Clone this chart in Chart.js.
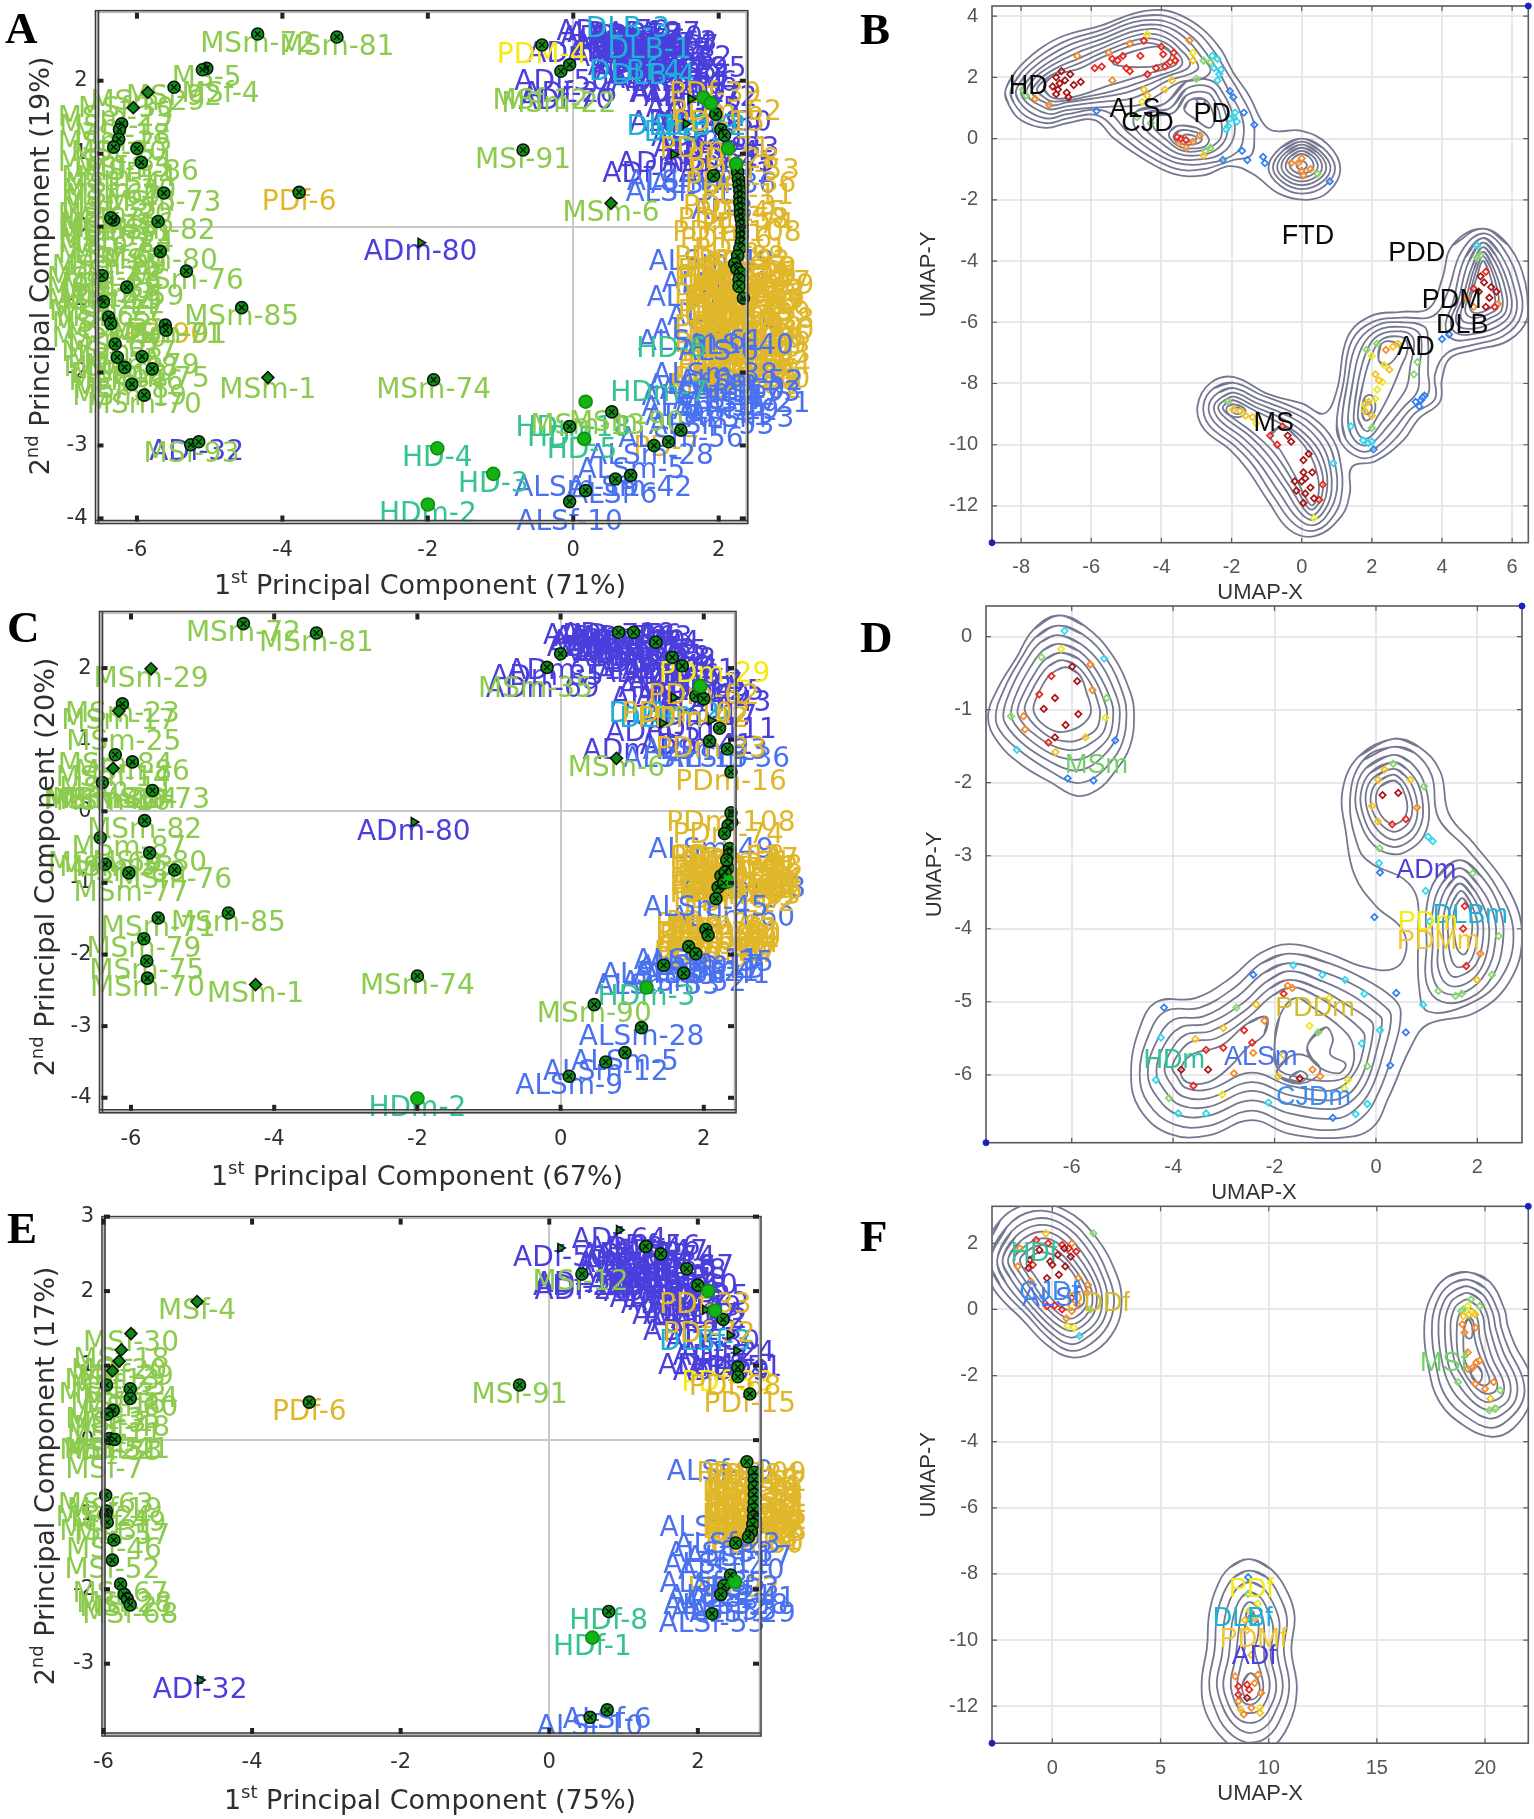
<!DOCTYPE html>
<html>
<head>
<meta charset="utf-8">
<title>PCA and UMAP panels</title>
<script src="https://cdn.jsdelivr.net/npm/chart.js@4"></script>
<style>
  html, body { margin: 0; background: #fff; }
  #page { position: relative; width: 1534px; height: 1819px; overflow: hidden; }
  canvas { position: absolute; }
</style>
</head>
<body>
<div id="page">
  <canvas id="panelA"></canvas>
  <canvas id="panelC"></canvas>
  <canvas id="panelE"></canvas>
  <canvas id="panelB"></canvas>
  <canvas id="panelD"></canvas>
  <canvas id="panelF"></canvas>
</div>
<script>
/* =====================================
   PANEL A – PCA (ALL)
===================================== */
const aXTicks = [-6, -4, -2, 0, 2];
const aYTicks = [2, 1, 0, -1, -2, -3, -4];
const aMsLabels = [[-4.34,2.64,"MSm-72"],[-3.25,2.6,"MSm-81"],[-5.04,2.17,"MS-5"],[-4.85,1.95,"MSf-4"],[-5.49,1.91,"MSf-92"],[-5.85,1.84,"MSm-29"],
  [-6.15,1.75,"MSf-30"],[-6.3,1.62,"MSm-23"],[-6.28,1.5,"MSm-17"],[-6.2,1.38,"MSf-18"],[-6.3,1.28,"MSm-25"],[-6.25,1.15,"MSf-20"],[-6.3,1,"MSm-84"],[-6.2,0.92,"MSf-13"],
  [-5.94,0.88,"MSm-86"],[-6.25,0.8,"MSm-14"],[-6.33,0.7,"MSf-54"],[-6.25,0.62,"MSm-30"],[-6.33,0.55,"MSf-60"],[-5.63,0.46,"MSm-73"],[-6.25,0.47,"MSm-43"],[-6.38,0.38,"MSf-35"],
  [-6.3,0.3,"MSm-20"],[-6.42,0.22,"MSf-3"],[-6.28,0.16,"MSm-16"],[-6.38,0.1,"MSf-48"],[-6.3,0.04,"MSm-11"],[-6.42,-0.04,"MSf-51"],[-5.71,0.07,"MSm-82"],[-6.28,-0.1,"MSm-24"],
  [-6.38,-0.18,"MSf-7"],[-6.3,-0.25,"MSm-87"],[-5.68,-0.34,"MSm-80"],[-6.25,-0.33,"MSf-63"],[-6.38,-0.42,"MSm-69"],[-6.33,-0.5,"MSf-22"],[-5.32,-0.61,"MSm-76"],[-6.45,-0.58,"MSm-33"],
  [-6.38,-0.66,"MSf-41"],[-6.45,-0.72,"MSm-89"],[-6.42,-0.8,"MSf-27"],[-6.45,-0.88,"MSm-39"],[-6.14,-0.83,"MSm-59"],[-6.38,-0.96,"MSf-44"],[-6.42,-1.04,"MSm-77"],[-6.45,-1.12,"MSf-65"],
  [-6.38,-1.2,"MSm-55"],[-6.33,-1.3,"MSf-52"],[-5.61,-1.35,"MSm-71"],[-6.38,-1.4,"MSm-40"],[-6.3,-1.5,"MSf-67"],[-6.25,-1.6,"MSm-37"],[-6.3,-1.7,"MSf-58"],[-5.93,-1.78,"MSm-79"],
  [-6.22,-1.8,"MSm-28"],[-6.25,-1.9,"MSf-68"],[-5.79,-1.95,"MSm-75"],[-6.15,-2,"MSm-46"],[-6.22,-2.1,"MSf-38"],[-6.1,-2.2,"MSm-19"],[-5.9,-2.31,"MSm-70"],[-4.56,-1.11,"MSm-85"],
  [-4.2,-2.1,"MSm-1"],[-1.92,-2.1,"MSm-74"],[-0.69,1.05,"MSf-91"],[0.52,0.32,"MSm-6"],[-5.25,-2.98,"MSf-93"],[-5.55,-1.35,"MSm-91"],[0.73,-2.56,"MSm-90"],[0.2,-2.6,"MSm-13"],[-0.45,1.85,"MSf-12"],[-0.2,1.82,"MSm-22"]];
const aAdLabels = [[-2.1,-0.22,"ADm-80"],[-5.18,-2.95,"ADf-32"],[-0.16,2.11,"ADf-50"],[-0.05,1.95,"ADf-26"],[-0.1,1.85,"ADf-70"],[0.15,2.5,"ADm-65"],[0.55,2.8,"ADm-70"],[0.7,2.78,"ADm-18"],[0.85,2.75,"ADf-77"],[1,2.72,"ADm-40"],
  [1.1,2.78,"ADf-27"],[1.2,2.65,"ADm-63"],[0.65,2.62,"ADf-64"],[0.8,2.6,"ADm-31"],[0.95,2.55,"ADf-47"],[1.1,2.5,"ADm-37"],[1.25,2.55,"ADf-12"],[1.4,2.45,"ADm-52"],[0.75,2.45,"ADm-22"],[0.9,2.4,"ADf-9"],
  [1.05,2.35,"ADm-55"],[1.2,2.3,"ADf-41"],[1.35,2.3,"ADm-29"],[1.5,2.2,"ADf-83"],[1.6,2.1,"ADm-6"],[1.1,2.15,"ADf-58"],[1.3,2.1,"ADm-44"],[1.45,1.95,"ADf-19"],[1.75,1.9,"ADm-72"],[1.65,1.75,"ADf-35"],
  [1.55,1.55,"ADm-49"],[1.7,1.55,"ADf-14"],[1.85,1.35,"ADm-11"],[1.75,1.2,"ADf-68"],[1.38,0.99,"ADm-51"],[1.05,0.85,"ADf-23"],[2.05,1.2,"ADm-33"],
  [0.6,2.72,"ADm-34"],[0.9,2.68,"ADf-56"],[1.15,2.62,"ADm-74"],[1.35,2.6,"ADf-67"],[0.7,2.52,"ADm-46"],[1.05,2.45,"ADf-38"],[1.3,2.42,"ADm-8"],[0.85,2.32,"ADf-61"],[1.25,2.2,"ADm-60"],[1.45,2.25,"ADf-5"],[1.6,2.3,"ADm-25"],
  [0.95,2.25,"ADf-43"],[1.55,1.95,"ADm-17"],[1.8,1.75,"ADf-2"],[1.95,1.55,"ADm-30"],[1.9,1.15,"ADf-24"],[2,1,"ADm-45"],[2.1,0.85,"ADf-71"]];
const aDlbLabels = [[0.75,2.85,"DLB-3"],[1.05,2.55,"DLB-1"],[0.85,2.25,"DLBf-4"],[1.1,2.2,"DLB-4"],[1.5,1.5,"DLBm-9"],[1.75,1.5,"DLBf-2"],[1.55,1.42,"DLB-5"]];
const aPdmLabels = [[-0.43,2.49,"PDM-4"]];
const aPdLabels = [[-3.77,0.47,"PDf-6"],[-5.6,-1.35,"PD-90"],[1.28,-2.9,"PD-7"],[1.95,1.95,"PDf-39"],[2.1,1.7,"PDm-62"],[2,1.55,"PDf-15"],[1.95,1.2,"PDm-71"],[2.2,1.05,"PDf-28"],[2.35,0.9,"PDm-53"],
  [2.3,0.72,"PDm-36"],[2.4,0.55,"PDf-11"],[2.15,0.4,"PDm-3"],[2.3,0.32,"PDf-45"],[2.2,0.22,"PDm-58"],[2.4,0.15,"PDf-74"],[2.25,0.05,"PDm-108"],[2.1,-0.05,"PDf-16"],[2.3,-0.18,"PDm-1"],[2.15,-0.3,"PDm-88"],
  [2.35,-0.35,"PDf-92"],[2.2,-0.47,"PDm-34"],[2.45,-0.52,"PDf-25"],[2.15,-0.58,"PDm-94"],[2.5,-0.64,"PDm-47"],[2.2,-0.7,"PDf-66"],[2.4,-0.76,"PDm-12"],[2.15,-0.82,"PDm-81"],[2.55,-0.88,"PDf-79"],
  [2.3,-0.94,"PDm-26"],[2.15,-1,"PDf-57"],[2.5,-1.06,"PDm-99"],[2.25,-1.12,"PDm-8"],[2.45,-1.18,"PDf-43"],[2.15,-1.24,"PDm-61"],[2.55,-1.3,"PDm-30"],[2.25,-1.36,"PDf-83"],[2.4,-1.42,"PDm-20"],
  [2.15,-1.48,"PDm-69"],[2.5,-1.54,"PDf-10"],[2.25,-1.6,"PDm-77"],[2.4,-1.66,"PDf-50"],[2.2,-1.72,"PDm-41"],[2.5,-1.78,"PDm-64"],[2.25,-1.84,"PDf-32"],[2.4,-1.9,"PDm-85"],[2.15,-1.96,"PDm-13"],[2.45,-2,"PDf-70"],
  [2.3,-0.45,"PDm-18"],[2.5,-0.5,"PDf-21"],[2.2,-0.55,"PDm-22"],[2.4,-0.6,"PDf-33"],[2.55,-0.68,"PDm-39"],[2.25,-0.74,"PDf-44"],[2.45,-0.8,"PDm-51"],[2.2,-0.86,"PDf-55"],[2.35,-0.9,"PDm-63"],[2.52,-0.96,"PDf-67"],
  [2.2,-1.03,"PDm-72"],[2.4,-1.1,"PDf-75"],[2.55,-1.15,"PDm-78"],[2.25,-1.2,"PDf-80"],[2.4,-1.27,"PDm-82"],[2.2,-1.33,"PDf-84"],[2.5,-1.38,"PDm-86"],[2.3,-1.45,"PDf-87"],[2.45,-1.5,"PDm-89"],[2.2,-1.55,"PDf-91"],
  [2.5,-1.62,"PDm-93"],[2.3,-1.68,"PDf-95"],[2.2,-1.78,"PDm-96"],[2.45,-1.85,"PDf-97"],[2.3,-1.93,"PDm-98"],[2.5,-1.97,"PDf-100"],[2.2,-2.05,"PDm-101"],[2.4,-2.1,"PDf-102"]];
const aAlsTopLabels = [[1.6,0.75,"ALSm-23"],[1.93,0.7,"ALSm-36"],[1.45,0.6,"ALSf-31"],[2.05,0.35,"AL-3"],[1.9,-0.35,"ALSm-49"],[1.95,-0.65,"ALSf-14"],[1.75,-0.85,"ALSm-7"],[1.95,-1.3,"ALSm-45"],[1.9,-1.1,"ALSf-2"]];
const aAlsLowLabels = [[1.75,-1.45,"ALSm-61"],[2.3,-1.5,"ALSf-40"],[2,-1.58,"ALS-6"],[1.95,-1.9,"ALSm-38"],[2.3,-2,"ALSm-52"],[1.75,-2.05,"ALSf-29"],[2.05,-2.12,"ALSm-60"],
  [2.4,-2.15,"ALSf-33"],[1.8,-2.2,"ALSm-11"],[2.1,-2.26,"ALSf-47"],[2.4,-2.3,"ALSm-21"],[1.8,-2.35,"ALSm-35"],[2.1,-2.4,"ALSf-19"],[1.85,-2.48,"ALSm-41"],[2.3,-2.5,"ALSm-3"],[1.9,-2.6,"ALSm-53"],[1.48,-2.78,"ALSm-56"],
  [1.07,-3.01,"ALSm-28"],[0.8,-3.2,"ALSm-5"],[0.77,-3.45,"ALSm-42"],[0.05,-3.45,"ALSm-19"],[0.55,-3.55,"ALSf-6"],[-0.05,-3.92,"ALSf-10"]];
const aHdLabels = [[-2,-3.81,"HDm-2"],[-1.1,-3.39,"HD-3"],[-1.87,-3.04,"HD-4"],[0.12,-2.93,"HD-5"],[-0.15,-2.76,"HD-1"],[0,-2.62,"HDm-18"],[1.35,-1.55,"HD-6"],[1.18,-2.15,"HDm-7"]];
const aDots = [[-4.34,2.64],[-3.25,2.6],[-5.04,2.17],[-5.1,2.15],[-5.49,1.91],[-6.21,1.41],[-6.24,1.33],[-6.25,1.2],[-6.32,1.09],[-6,1.07],[-5.94,0.88],[-5.63,0.46],[-6.32,0.09],[-6.36,0.12],[-5.71,0.07],[-5.68,-0.34],[-5.32,-0.61],[-6.14,-0.83],
  [-6.48,-0.67],[-6.46,-1.03],[-6.39,-1.24],[-6.36,-1.33],[-5.61,-1.35],[-5.6,-1.42],[-6.3,-1.61],[-5.93,-1.78],[-6.27,-1.79],[-6.17,-1.93],[-5.79,-1.95],[-6.07,-2.16],[-5.9,-2.31],[-4.56,-1.11],[-1.92,-2.1],[-0.69,1.05],[-3.77,0.47],
  [-5.26,-2.99],[-5.15,-2.95],[-0.43,2.49],[-0.17,2.13],[-0.05,2.22],[1.96,1.54],[2.03,1.33],[2.08,1.25],[1.93,0.7],[2.26,0.75],[2.27,0.65],[2.28,0.57],[2.29,0.49],[2.29,0.41],[2.29,0.33],[2.3,0.25],[2.3,0.17],[2.31,0.1],[2.32,0.02],[2.32,-0.06],
  [2.32,-0.14],[2.31,-0.22],[2.29,-0.3],[2.26,-0.4],[2.22,-0.51],[2.25,-0.58],[2.3,-0.64],[2.28,-0.72],[2.28,-0.82],[2.34,-0.98],[1.48,-2.79],[1.31,-2.95],[1.11,-3],[0.53,-2.54],[-0.05,-2.74],[0.79,-3.41],[0.58,-3.46],[0.17,-3.62],[-0.05,-3.77]];
const aBrightDots = [[1.79,1.77],[1.89,1.69],[2.13,1.07],[2.24,0.86],[0.17,-2.4],[0.15,-2.91],[-1.87,-3.04],[-1.1,-3.39],[-2,-3.81]];
const aDiamonds = [[-5.85,1.84],[-6.05,1.63],[-4.2,-2.07],[0.52,0.32]];
const aTriangles = [[-2.1,-0.22],[1.62,1.75],[1.55,1.41],[1.38,0.99]];

/* =====================================
   PANEL C – PCA (MALE)
===================================== */
const cXTicks = [-6, -4, -2, 0, 2];
const cYTicks = [2, 1, 0, -1, -2, -3, -4];
const cMsLabels = [[-4.43,2.62,"MSm-72"],[-3.41,2.49,"MSm-81"],[-5.72,1.99,"MSm-29"],[-6.12,1.5,"MSm-23"],[-6.17,1.4,"MSm-17"],[-6.1,1.1,"MSm-25"],[-6.22,0.79,"MSm-84"],[-5.98,0.69,"MSm-86"],[-6.25,0.6,"MSm-14"],[-6.2,0.45,"MSm-11"],
  [-6.4,0.3,"MSm-30"],[-6.42,0.28,"MSm-43"],[-6.3,0.3,"MSm-20"],[-6.25,0.27,"MSm-16"],[-6.15,0.3,"MSm-24"],[-5.7,0.29,"MSm-73"],[-5.81,-0.13,"MSm-82"],[-6.03,-0.37,"MSm-87"],[-5.74,-0.58,"MSm-80"],[-6.36,-0.6,"MSm-69"],[-6.03,-0.72,"MSm-89"],
  [-6.2,-0.66,"MSm-33"],[-5.39,-0.82,"MSm-76"],[-6,-1,"MSm-77"],[-4.64,-1.42,"MSm-85"],[-5.62,-1.49,"MSm-71"],[-5.82,-1.78,"MSm-79"],[-5.78,-2.09,"MSm-75"],[-5.77,-2.33,"MSm-70"],[-4.26,-2.42,"MSm-1"],[-2,-2.3,"MSm-74"],[0.78,0.74,"MSm-6"],[0.47,-2.7,"MSm-90"],[-0.35,1.85,"MSm-35"]];
const cAdLabels = [[-2.05,-0.15,"ADm-80"],[0.05,2.1,"ADm-11"],[-0.19,2.01,"ADm-85"],[-0.25,1.85,"ADm-69"],[0.55,2.58,"ADm-79"],[0.7,2.55,"ADm-70"],[0.8,2.6,"ADm-18"],[0.95,2.5,"ADm-40"],[1.05,2.55,"ADm-63"],[0.6,2.42,"ADm-31"],[0.85,2.4,"ADm-37"],[1.1,2.38,"ADm-22"],
  [1.25,2.36,"ADm-55"],[0.95,2.28,"ADm-29"],[1.2,2.2,"ADm-52"],[1.4,2.15,"ADm-44"],[1.55,2.03,"ADm-6"],[1.75,1.95,"ADm-72"],[1.6,1.85,"ADm-58"],[1.85,1.75,"ADm-49"],[1.5,1.7,"ADm-14"],[1.42,1.23,"ADm-51"],[2.1,1.27,"ADm-111"],[1.1,0.98,"ADm-23"],[1.9,1.05,"ADm-41"],
  [0.65,2.5,"ADm-34"],[0.9,2.58,"ADm-56"],[1.15,2.48,"ADm-74"],[0.75,2.35,"ADm-67"],[1,2.32,"ADm-46"],[1.3,2.28,"ADm-38"],[1.5,2.25,"ADm-8"],[1.65,2.1,"ADm-61"],[1.3,2.05,"ADm-60"],[1.9,1.9,"ADm-5"],[2.05,1.8,"ADm-25"],[2.15,1.65,"ADm-43"],[1.95,1.45,"ADm-17"]];
const cDlbLabels = [[1.45,1.5,"DLBm-2"],[1.6,1.42,"DLBm-9"]];
const cPdmLabels = [[2.15,2.05,"PDm-29"]];
const cPdLabels = [[2,1.75,"PDm-62"],[1.75,1.5,"PDm-102"],[1.85,1.42,"PDm-42"],[2.1,1,"PDm-33"],[2.38,0.55,"PDm-16"],[2.38,-0.02,"PDm-108"],[2.34,-0.2,"PDm-74"],[2.3,-0.52,"PDm-53"],[2.55,-0.55,"PDm-47"],[2.35,-0.6,"PDm-3"],
  [2.6,-0.64,"PDm-28"],[2.3,-0.68,"PDm-71"],[2.5,-0.72,"PDm-58"],[2.4,-0.76,"PDm-36"],[2.6,-0.82,"PDm-94"],[2.3,-0.88,"PDm-12"],[2.45,-0.92,"PDm-81"],[2.6,-0.98,"PDm-66"],[2.3,-1.02,"PDm-26"],[2.5,-1.08,"PDm-99"],
  [2.15,-1.48,"PDm-8"],[2.3,-1.52,"PDm-61"],[2.1,-1.58,"PDm-30"],[2.3,-1.65,"PDm-20"],[2.1,-1.72,"PDm-69"],[2.25,-1.78,"PDm-77"],[2.08,-1.84,"PDm-41"],
  [2.35,-0.5,"PDm-18"],[2.45,-0.58,"PDm-21"],[2.55,-0.66,"PDm-22"],[2.35,-0.72,"PDm-31"],[2.45,-0.8,"PDm-39"],[2.55,-0.86,"PDm-44"],[2.32,-0.92,"PDm-51"],[2.42,-0.98,"PDm-55"],[2.58,-1.04,"PDm-63"],[2.35,-1.1,"PDm-67"],[2.5,-1.14,"PDm-72"],
  [2.25,-1.42,"PDm-75"],[2.1,-1.45,"PDm-78"],[2.3,-1.56,"PDm-80"],[2.15,-1.62,"PDm-82"],[2.28,-1.72,"PDm-84"],[2.12,-1.78,"PDm-86"],[2.25,-1.85,"PDm-87"],[2.08,-1.92,"PDm-89"]];
const cAlsBackLabels = [[2.02,0.98,"ALSm-23"],[1.75,0.87,"ALSm-15"],[2.33,0.87,"ALSm-36"],[2.1,-0.4,"ALSm-49"],[2.55,-0.95,"ALSm-38"],[2.4,-1.35,"ALSm-60"]];
const cAlsLabels = [[2.03,-1.22,"ALSm-45"],[1.9,-1.95,"ALSm-11"],[2.1,-1.98,"ALSm-35"],[1.95,-2.04,"ALSm-17"],[2.1,-2.08,"ALSm-3"],
  [1.9,-2.12,"ALSm-21"],[2.05,-2.15,"ALSm-41"],[1.44,-2.15,"ALSm-58"],[1.72,-2.26,"ALSm-52"],[1.35,-2.3,"ALSm-33"],[1.13,-3.02,"ALSm-28"],[0.9,-3.37,"ALSm-5"],[0.63,-3.5,"ALSm-12"],[0.12,-3.7,"ALSm-9"]];
const cHdLabels = [[-2,-4.01,"HDm-2"],[1.2,-2.46,"HDm-3"]];
const cDots = [[-4.43,2.62],[-3.41,2.49],[-6.12,1.5],[-6.22,0.79],[-5.98,0.69],[-6.4,0.4],[-5.7,0.29],[-5.81,-0.13],[-6.43,-0.37],[-5.74,-0.58],[-6.36,-0.74],[-6.03,-0.86],[-5.39,-0.82],[-4.64,-1.42],[-5.62,-1.49],[-5.82,-1.78],[-5.78,-2.09],[-5.77,-2.33],[-2,-2.3],[0,2.2],[-0.19,2.01],
  [0.81,2.5],[1.02,2.5],[1.33,2.36],[1.56,2.15],[1.7,2.03],[1.89,1.61],[2,1.57],[2.22,1.16],[2.08,0.98],[2.33,0.87],[2.38,0.55],[2.38,-0.02],[2.39,-0.15],[2.34,-0.2],[2.29,-0.31],[2.36,-0.52],[2.36,-0.6],[2.34,-0.79],[2.24,-0.9],[2.2,-1.06],[2.17,-1.22],[2.03,-1.65],[2.06,-1.73],[1.79,-1.89],[1.89,-1.99],
  [1.44,-2.15],[1.72,-2.26],[0.47,-2.7],[1.13,-3.02],[0.9,-3.37],[0.63,-3.5],[0.12,-3.7],[2.32,-0.68],[2.3,-0.85],[2.28,-1]];
const cBrightDots = [[1.95,1.75],[2.34,-0.98],[1.2,-2.46],[-2,-4.01]];
const cDiamonds = [[-5.72,1.99],[-6.17,1.4],[-6.25,0.6],[-4.26,-2.42],[0.78,0.74]];
const cTriangles = [[-2.05,-0.15],[1.58,1.59],[1.42,1.23],[2.1,1.27]];

/* =====================================
   PANEL E – PCA (FEMALE)
===================================== */
const eXTicks = [-6, -4, -2, 0, 2];
const eYTicks = [3, 2, 1, 0, -1, -2, -3];
const eMsLabels = [[-4.74,1.86,"MSf-4"],[-5.63,1.43,"MSf-30"],[-5.76,1.21,"MSf-18"],[-5.79,1.06,"MSf-20"],[-5.7,0.98,"MSf-29"],[-5.88,0.93,"MSf-13"],[-5.8,0.85,"MSf-23"],[-5.96,0.74,"MSf-43"],[-5.64,0.69,"MSf-54"],[-5.8,0.6,"MSf-16"],[-5.64,0.56,"MSf-60"],[-5.87,0.4,"MSf-35"],
  [-5.95,0.35,"MSf-3"],[-5.75,0.3,"MSf-48"],[-5.85,0.2,"MSf-11"],[-5.89,0,"MSf-51"],[-5.95,-0.02,"MSf-22"],[-5.85,-0.03,"MSf-33"],[-5.75,0,"MSf-41"],[-5.99,-0.27,"MSf-7"],[-5.97,-0.74,"MSf-63"],[-5.85,-0.8,"MSf-19"],[-6,-0.92,"MSf-24"],[-5.8,-0.98,"MSf-49"],
  [-5.95,-1.1,"MSf-31"],[-5.75,-1.15,"MSf-57"],[-5.86,-1.34,"MSf-46"],[-5.88,-1.61,"MSf-52"],[-5.77,-1.93,"MSf-67"],[-5.72,-2.07,"MSf-28"],[-5.68,-2.12,"MSf-21"],[-5.64,-2.21,"MSf-68"],[-0.4,0.74,"MSf-91"],[0.42,2.25,"MSf-12"]];
const eAdLabels = [[-4.7,-3.22,"ADf-32"],[0.94,2.82,"ADf-64"],[0.15,2.58,"ADf-50"],[0.44,2.23,"ADf-70"],[0.42,2.18,"ADf-26"],[0.44,2.13,"ADf-20"],[1.05,2.62,"ADf-77"],[1.25,2.6,"ADf-37"],[1.5,2.65,"ADf-47"],[1.1,2.48,"ADf-27"],[1.35,2.5,"ADf-63"],[1.6,2.45,"ADf-18"],[1,2.38,"ADf-31"],[1.25,2.35,"ADf-40"],[1.5,2.32,"ADf-22"],[1.75,2.28,"ADf-55"],
  [1.15,2.22,"ADf-29"],[1.4,2.18,"ADf-52"],[1.65,2.15,"ADf-44"],[1.85,2.08,"ADf-6"],[1.45,2.02,"ADf-72"],[1.7,1.98,"ADf-58"],[1.95,1.9,"ADf-49"],[1.75,1.8,"ADf-14"],[2,1.7,"ADf-83"],[1.9,1.58,"ADf-23"],[2.4,1.3,"ADf-24"],[2.1,1.12,"ADf-45"],[2.3,1.05,"ADf-34"],[2.5,1.1,"ADf-51"],
  [1.15,2.7,"ADf-34"],[1.4,2.72,"ADf-56"],[1.6,2.58,"ADf-74"],[1.85,2.45,"ADf-67"],[1,2.5,"ADf-46"],[1.75,2.4,"ADf-38"],[1.35,2.4,"ADf-8"],[1.6,2.28,"ADf-61"],[1.9,2.2,"ADf-60"],[1.25,2.1,"ADf-5"],[2.05,2.05,"ADf-25"],[1.6,1.95,"ADf-43"],[1.9,1.8,"ADf-17"],[2.15,1.75,"ADf-2"],[2.2,1.45,"ADf-30"],[2.3,1.25,"ADf-71"],[2.45,1.05,"ADf-9"]];
const eDlbLabels = [[2.1,1.45,"DLBf-3"]];
const ePdmLabels = [[2.4,0.9,"PDf-38"]];
const ePdLabels = [[-3.23,0.51,"PDf-6"],[2.1,1.95,"PDf-33"],[2.15,1.55,"PDf-72"],[2.5,0.85,"PDf-68"],[2.7,0.62,"PDf-15"],[2.72,-0.32,"PDf-109"],[2.75,-0.55,"PDf-36"],[2.8,-0.6,"PDf-53"],[2.72,-0.68,"PDf-28"],[2.85,-0.72,"PDf-11"],[2.75,-0.78,"PDf-47"],[2.82,-0.86,"PDf-94"],[2.72,-0.92,"PDf-12"],
  [2.85,-0.96,"PDf-81"],[2.75,-1.02,"PDf-66"],[2.82,-1.08,"PDf-26"],[2.72,-1.14,"PDf-99"],[2.85,-1.18,"PDf-8"],[2.78,-1.24,"PDf-61"],[2.48,-1.86,"PDf-92"],
  [2.72,-0.42,"PDf-18"],[2.8,-0.5,"PDf-21"],[2.68,-0.58,"PDf-22"],[2.85,-0.64,"PDf-31"],[2.7,-0.74,"PDf-39"],[2.8,-0.82,"PDf-44"],[2.68,-0.88,"PDf-51"],[2.85,-0.9,"PDf-55"],[2.7,-1,"PDf-63"],[2.8,-1.04,"PDf-67"],[2.68,-1.08,"PDf-72"],[2.85,-1.12,"PDf-75"],[2.72,-1.2,"PDf-78"],[2.8,-1.28,"PDf-80"],[2.85,-0.45,"PDf-82"],[2.75,-0.35,"PDf-84"]];
const eAlsBackLabels = [[2.3,-0.3,"ALSf-19"],[2.2,-1.05,"ALSf-30"]];
const eAlsLabels = [[2.4,-1.28,"ALSf-23"],[2.3,-1.4,"ALSf-38"],[2.55,-1.45,"ALSf-17"],[2.25,-1.55,"ALSf-11"],[2.45,-1.62,"ALSf-40"],[2.2,-1.8,"ALSf-35"],[2.5,-1.85,"ALSf-3"],[2.3,-1.98,"ALSf-21"],[2.6,-2,"ALSf-41"],[2.25,-2.1,"ALSf-52"],
  [2.5,-2.1,"ALSf-58"],[2.35,-2.18,"ALSf-33"],[2.6,-2.2,"ALSf-29"],[2.19,-2.33,"ALSf-53"],[0.78,-3.62,"ALSf-6"],[0.55,-3.72,"ALSf-10"]];
const eHdLabels = [[0.8,-2.3,"HDf-8"],[0.58,-2.65,"HDf-1"]];
const eDots = [[-5.96,0.74],[-5.64,0.69],[-5.64,0.56],[-5.87,0.4],[-5.95,0.35],[-5.92,0.02],[-5.85,0.01],[-5.97,-0.74],[-5.96,-0.95],[-5.97,-1],[-5.95,-1.1],[-5.86,-1.34],[-5.88,-1.61],[-5.77,-1.93],[-5.72,-2.07],[-5.68,-2.13],[-5.64,-2.21],[-0.4,0.74],[-3.23,0.51],[0.44,2.23],[0.78,-3.62],[0.55,-3.72],[0.8,-2.3],
  [1.3,2.6],[1.5,2.5],[1.85,2.3],[2,2.08],[2.34,1.62],[2.54,0.98],[2.54,0.85],[2.7,0.62],[2.66,-0.29],[2.76,-0.43],[2.76,-0.53],[2.76,-0.63],[2.76,-0.73],[2.76,-0.83],[2.75,-0.93],[2.75,-1.03],[2.74,-1.13],[2.72,-1.23],[2.68,-1.3],[2.51,-1.38],[2.44,-1.81],[2.35,-1.95],[2.31,-2.07],[2.19,-2.33]];
const eBrightDots = [[2.14,2],[2.23,1.74],[2.5,-1.9],[0.58,-2.65]];
const eDiamonds = [[-4.74,1.86],[-5.63,1.43],[-5.76,1.21],[-5.79,1.06],[-5.88,0.93]];
const eTriangles = [[0.94,2.82],[0.15,2.58],[-4.7,-3.22],[2.43,1.41],[2.52,1.2],[2.1,1.75]];

/* =====================================
   PANEL B – UMAP (ALL)
===================================== */
const bXTicks = [-8, -6, -4, -2, 0, 2, 4, 6];
const bYTicks = [4, 2, 0, -2, -4, -6, -8, -10, -12];
const bNames = [[-7.8,1.7,"HD"],[-4.75,0.95,"ALS"],[-4.4,0.5,"CJD"],[-2.55,0.8,"PD"],[0.18,-3.19,"FTD"],[3.28,-3.76,"PDD"],[4.28,-5.29,"PDM"],[4.58,-6.1,"DLB"],[3.26,-6.83,"AD"],[-0.8,-9.31,"MS"]];
const bUpperRings = [
  [[-8.45,1.55],[-8.15,2.2],[-7.5,2.9],[-6.8,3.35],[-5.7,3.7],[-4.75,4.1],[-4,4.2],[-3.4,4],[-2.8,3.55],[-2.3,2.9],[-1.95,2.15],[-1.5,1.4],[-1.1,0.5],[-0.8,0.25],[0,0.25],[0.75,-0.2],[1.1,-1],[0.75,-1.75],[0.15,-2],[-0.65,-1.8],[-1.4,-1.15],[-2.05,-0.9],[-2.8,-1.2],[-3.65,-1.15],[-4.6,-0.6],[-5.35,0],[-5.9,0.6],[-6.7,0.5],[-7.3,0.35],[-8,0.6],[-8.35,1.1]],
  [[-8.3,1.55],[-8,2.15],[-7.4,2.75],[-6.7,3.2],[-5.7,3.55],[-4.8,3.95],[-4.05,4.03],[-3.5,3.85],[-2.95,3.45],[-2.5,2.85],[-2.15,2.2],[-1.75,1.45],[-1.4,0.65],[-1.35,0.1],[-1.45,-0.55],[-1.95,-0.7],[-2.8,-1],[-3.6,-0.98],[-4.45,-0.5],[-5.15,0.1],[-5.8,0.75],[-6.7,0.65],[-7.25,0.5],[-7.85,0.72],[-8.2,1.15]],
  [[-8.15,1.55],[-7.85,2.1],[-7.3,2.62],[-6.6,3.07],[-5.7,3.4],[-4.8,3.8],[-4.1,3.87],[-3.6,3.7],[-3.1,3.3],[-2.7,2.75],[-2.35,2.15],[-2.05,1.5],[-1.75,0.85],[-1.65,0.2],[-1.85,-0.45],[-2.75,-0.82],[-3.55,-0.8],[-4.3,-0.38],[-4.95,0.2],[-5.6,0.9],[-6.7,0.8],[-7.2,0.65],[-7.7,0.83],[-8.05,1.2]],
  [[-8,1.55],[-7.7,2.05],[-7.2,2.5],[-6.5,2.93],[-5.7,3.25],[-4.8,3.65],[-4.15,3.72],[-3.65,3.55],[-3.2,3.15],[-2.85,2.65],[-2.6,2.25],[-2.85,1.95],[-3.45,1.85],[-4.05,1.45],[-4.6,1.1],[-5.35,1.05],[-6.7,0.93],[-7.15,0.8],[-7.55,0.95],[-7.9,1.25]],
  [[-7.85,1.55],[-7.6,2],[-7.1,2.4],[-6.45,2.78],[-5.7,3.1],[-4.8,3.5],[-4.2,3.58],[-3.75,3.4],[-3.35,3.05],[-3.05,2.6],[-2.95,2.3],[-3.2,2.1],[-3.8,1.9],[-4.35,1.55],[-4.9,1.3],[-5.7,1.2],[-6.7,1.05],[-7.15,0.95],[-7.45,1.08],[-7.75,1.3]],
  [[-7.7,1.55],[-7.45,1.95],[-7,2.3],[-6.35,2.62],[-5.7,2.95],[-4.8,3.35],[-4.25,3.42],[-3.8,3.25],[-3.45,2.9],[-3.2,2.55],[-3.25,2.3],[-3.8,2.05],[-4.4,1.75],[-5,1.5],[-5.7,1.35],[-6.7,1.18],[-7.1,1.08],[-7.35,1.2],[-7.6,1.35]],
  [[-7.55,1.6],[-7.3,1.95],[-6.9,2.2],[-6.3,2.48],[-5.7,2.8],[-4.8,3.2],[-4.3,3.27],[-3.85,3.1],[-3.55,2.8],[-3.4,2.5],[-3.55,2.27],[-4.1,2.05],[-4.7,1.8],[-5.4,1.55],[-6.2,1.35],[-6.8,1.23],[-7.15,1.22],[-7.35,1.35]],
  [[-7.35,1.7],[-7.15,2],[-6.8,2.15],[-6.3,2.3],[-5.7,2.65],[-4.8,3.05],[-4.3,3.12],[-3.9,2.95],[-3.65,2.7],[-3.55,2.5],[-3.7,2.35],[-4.3,2.15],[-5,1.9],[-5.6,1.7],[-6.3,1.42],[-6.9,1.3],[-7.2,1.4]],
  [[-5.35,2.6],[-4.65,2.9],[-3.95,3],[-3.72,2.75],[-3.95,2.45],[-4.65,2.33],[-5.35,2.42]]];
const bLobeRings = [
  [[-3.9,1.15],[-3.3,1.85],[-2.6,1.9],[-2.2,1.4],[-1.95,0.7],[-1.95,0],[-2.3,-0.5],[-2.9,-0.68],[-3.55,-0.65],[-4.15,-0.27],[-4.75,0.35],[-4.7,0.9]],
  [[-3.75,1],[-3.3,1.62],[-2.65,1.7],[-2.35,1.3],[-2.15,0.7],[-2.15,0.05],[-2.45,-0.37],[-2.95,-0.55],[-3.5,-0.5],[-4,-0.15],[-4.5,0.4],[-4.4,0.85]],
  [[-3.65,0.85],[-3.3,1.4],[-2.7,1.5],[-2.45,1.15],[-2.3,0.6],[-2.3,0.05],[-2.55,-0.25],[-3,-0.42],[-3.45,-0.38],[-3.85,-0.05],[-4.25,0.42],[-4.15,0.75]],
  [[-3.2,1.25],[-2.8,1.3],[-2.6,1.05],[-2.5,0.55],[-2.65,0.35],[-3.05,0.65],[-3.35,0.95]],
  [[-3,1.25],[-2.85,1.3],[-2.75,1.2],[-2.9,1.12]],
  [[-3.5,0.42],[-3,0.35],[-2.65,0],[-2.75,-0.25],[-3.05,-0.32],[-3.45,-0.28],[-3.75,0],[-3.75,0.25]],
  [[-3.4,0.28],[-3,0.2],[-2.85,0],[-2.95,-0.15],[-3.25,-0.2],[-3.55,-0.12],[-3.65,0.1]],
  [[-3.35,0.12],[-3.1,0.1],[-3,0],[-3.15,-0.1],[-3.4,-0.05]]];
const bFtdRings = [
  [[0,0],[0.6,-0.3],[0.95,-0.95],[0.65,-1.55],[0,-1.8],[-0.6,-1.55],[-0.95,-0.95],[-0.6,-0.3]],
  [[0,-0.1],[0.5,-0.38],[0.82,-0.93],[0.58,-1.42],[0,-1.65],[-0.55,-1.42],[-0.82,-0.93],[-0.52,-0.38]],
  [[0,-0.2],[0.45,-0.45],[0.7,-0.92],[0.5,-1.32],[0,-1.52],[-0.48,-1.32],[-0.7,-0.92],[-0.45,-0.45]],
  [[0,-0.3],[0.38,-0.5],[0.58,-0.9],[0.42,-1.24],[0,-1.4],[-0.4,-1.24],[-0.58,-0.9],[-0.38,-0.5]],
  [[0,-0.4],[0.3,-0.56],[0.46,-0.88],[0.33,-1.15],[0,-1.28],[-0.32,-1.15],[-0.46,-0.88],[-0.3,-0.56]],
  [[0,-0.5],[0.23,-0.62],[0.34,-0.87],[0.25,-1.05],[0,-1.16],[-0.24,-1.05],[-0.34,-0.87],[-0.23,-0.62]],
  [[0,-0.72],[0.12,-0.8],[0.14,-0.92],[0,-1.02],[-0.14,-0.92],[-0.12,-0.8]]];
const bLowerOuter = [[5.16,-2.94],[5.89,-3.48],[6.38,-4.73],[6.44,-5.85],[5.89,-6.6],[4.91,-6.91],[4.24,-7.16],[4,-7.85],[3.94,-8.6],[3.33,-9.16],[2.9,-9.85],[2.1,-10.54],[1.43,-10.73],[1.37,-11.6],[1.12,-12.35],[0.39,-12.98],[-0.34,-12.79],[-0.95,-11.85],[-1.56,-10.79],[-2.05,-10.16],[-2.79,-9.48],[-2.97,-8.73],[-2.6,-7.98],[-1.93,-7.79],[-0.95,-8.35],[0.02,-8.66],[0.64,-8.98],[1,-8.23],[1.31,-6.48],[1.98,-5.79],[2.84,-5.66],[3.63,-5.54],[4,-4.6],[4.3,-3.48]];
const bMsRings = [
  [[-1.93,-7.98],[-1.2,-8.35],[-0.4,-8.7],[0.3,-9.1],[0.9,-9.85],[1.12,-10.7],[1.15,-11.5],[0.95,-12.25],[0.4,-12.8],[-0.2,-12.6],[-0.8,-11.7],[-1.4,-10.65],[-1.95,-10],[-2.65,-9.35],[-2.8,-8.7],[-2.5,-8.15]],
  [[-1.93,-8.15],[-1.25,-8.5],[-0.45,-8.85],[0.2,-9.25],[0.75,-9.95],[0.97,-10.75],[1,-11.5],[0.8,-12.15],[0.38,-12.62],[-0.1,-12.42],[-0.65,-11.55],[-1.25,-10.55],[-1.8,-9.9],[-2.5,-9.25],[-2.65,-8.72],[-2.38,-8.3]],
  [[-1.93,-8.3],[-1.3,-8.63],[-0.5,-9],[0.1,-9.4],[0.6,-10.05],[0.82,-10.8],[0.85,-11.5],[0.7,-12.05],[0.36,-12.45],[0,-12.27],[-0.5,-11.4],[-1.1,-10.45],[-1.65,-9.8],[-2.35,-9.18],[-2.5,-8.75],[-2.28,-8.45]],
  [[-1.93,-8.43],[-1.35,-8.75],[-0.6,-9.12],[0,-9.55],[0.47,-10.15],[0.7,-10.85],[0.72,-11.5],[0.6,-11.95],[0.33,-12.3],[0.08,-12.12],[-0.38,-11.3],[-0.95,-10.35],[-1.5,-9.7],[-2.2,-9.1],[-2.38,-8.78],[-2.2,-8.55]],
  [[-1.93,-8.55],[-1.4,-8.85],[-0.7,-9.25],[-0.1,-9.65],[0.35,-10.25],[0.58,-10.9],[0.6,-11.5],[0.5,-11.88],[0.3,-12.12],[0.12,-11.98],[-0.25,-11.2],[-0.8,-10.25],[-1.4,-9.6],[-2.05,-9.05],[-2.25,-8.8],[-2.12,-8.62]],
  [[-0.55,-9.42],[-0.1,-9.8],[0.25,-10.35],[0.45,-11],[0.48,-11.6],[0.3,-11.98],[0.1,-11.7],[-0.2,-11],[-0.6,-10.2],[-0.9,-9.7]],
  [[-1.93,-8.68],[-1.65,-8.8],[-1.62,-9],[-1.9,-9.1],[-2.12,-8.95],[-2.12,-8.75]],
  [[-1.87,-8.78],[-1.7,-8.85],[-1.75,-8.98],[-1.9,-8.98],[-2,-8.87]]];
const bAdRings = [
  [[1,-9.22],[1.19,-7.98],[1.43,-6.6],[2.04,-5.98],[2.84,-5.85],[3.75,-5.79],[4.15,-5.05],[4.55,-3.7],[5.16,-3.1],[5.75,-3.6],[6.2,-4.8],[6.25,-5.8],[5.75,-6.45],[4.85,-6.75],[4.15,-7],[3.8,-7.7],[3.8,-8.5],[3.2,-9],[2.75,-9.7],[2.1,-10.35],[1.6,-10.4],[1.1,-9.9]],
  [[1.15,-9.2],[1.3,-8],[1.55,-6.75],[2.1,-6.12],[2.85,-6],[3.5,-6.15],[3.6,-6.6],[3.6,-7.6],[3.6,-8.35],[3.05,-8.9],[2.6,-9.55],[2.05,-10.15],[1.65,-10.2],[1.25,-9.8]],
  [[1.32,-9.15],[1.45,-8],[1.7,-6.85],[2.15,-6.27],[2.85,-6.15],[3.3,-6.3],[3.42,-6.7],[3.35,-7.5],[3.3,-8.25],[2.9,-8.78],[2.45,-9.4],[2,-9.95],[1.68,-10],[1.4,-9.65]],
  [[1.48,-9.1],[1.6,-8],[1.85,-6.95],[2.2,-6.42],[2.85,-6.3],[3.15,-6.47],[3.2,-6.8],[3.1,-7.4],[3,-8.1],[2.7,-8.65],[2.3,-9.25],[1.95,-9.75],[1.72,-9.78],[1.55,-9.5]],
  [[1.6,-9.05],[1.75,-8],[2,-7.05],[2.3,-6.55],[2.8,-6.47],[3,-6.65],[3,-7],[2.85,-7.4],[2.6,-8.1],[2.35,-8.7],[2.1,-9.2],[1.9,-9.55],[1.73,-9.45]],
  [[2.2,-7.25],[2.25,-6.75],[2.5,-6.62],[2.8,-6.8],[2.65,-7.2],[2.4,-7.4]],
  [[1.72,-8.95],[1.8,-8.45],[2,-8.4],[2.1,-8.8],[1.95,-9.15],[1.8,-9.2]],
  [[1.8,-8.75],[1.9,-8.6],[2,-8.8],[1.9,-9],[1.8,-8.95]]];
const bPdmRings = [
  [[5.16,-3.25],[5.65,-3.75],[6.05,-4.85],[6.1,-5.75],[5.65,-6.3],[4.85,-6.55],[4.3,-6.55],[4.1,-6.1],[4.3,-5.4],[4.65,-3.9]],
  [[5.16,-3.4],[5.55,-3.85],[5.92,-4.9],[5.95,-5.7],[5.55,-6.15],[4.9,-6.38],[4.4,-6.35],[4.25,-5.95],[4.45,-5.35],[4.75,-4.05]],
  [[5.16,-3.55],[5.5,-4],[5.8,-4.9],[5.82,-5.65],[5.45,-6],[4.95,-6.2],[4.5,-6.15],[4.4,-5.8],[4.58,-5.25],[4.85,-4.2]],
  [[5.16,-3.7],[5.42,-4.1],[5.68,-4.95],[5.7,-5.6],[5.4,-5.85],[5,-6.02],[4.62,-5.98],[4.53,-5.7],[4.7,-5.15],[4.9,-4.3]],
  [[5.16,-3.85],[5.38,-4.2],[5.58,-4.95],[5.6,-5.5],[5.35,-5.72],[5.02,-5.85],[4.75,-5.8],[4.66,-5.55],[4.8,-5.05],[4.95,-4.4]],
  [[5.16,-4],[5.32,-4.3],[5.48,-5],[5.5,-5.4],[5.28,-5.6],[5.03,-5.7],[4.85,-5.65],[4.78,-5.4],[4.88,-4.95],[5,-4.5]]];
const bDarkRed = [[-7,2],[-6.9,1.8],[-6.75,1.9],[-6.95,1.6],[-6.7,1.5],[-6.6,2.1],[-7.1,1.7],[-6.85,2.2],[-6.5,1.75],[-6.3,1.85],[-6.65,1.35],[-7,1.45],[0.05,-10.5],[0.05,-10.9],[0.1,-11.1],[0.3,-10.9],[0,-11.2],[0.25,-11.4],[-0.15,-11.5],[0.1,-11.6],[0.35,-11.75],[0.05,-11.9],[-0.2,-11.2],[0.2,-10.3],[-0.4,-9.7],[-0.3,-9.9],[5.2,-4.7],[5.4,-4.85],[5.05,-5],[5.35,-5.2],[5.25,-5.5],[5.55,-5],[5.1,-4.5]];
const bRed = [[-5.9,2.3],[-5.7,2.35],[-5.4,2.6],[-5.1,2.7],[-5,2.3],[-4.9,2.2],[-4.6,2.7],[-4.4,2.1],[-4.15,2.3],[-3.9,2.35],[-3.95,2.75],[-4,3],[-3.65,2.8],[-3.6,2.55],[-4.5,3.2],[-3.75,2.5],[-5.25,2.55],[-3.45,0],[-3.55,0.05],[-3.3,-0.05],[-0.9,-9.7],[-0.55,-9.4],[-0.7,-10],[5.25,-4.35],[4.9,-4.9],[5.5,-5.5],[0.6,-11.3],[0.5,-11.8]];
const bOrange = [[-7.6,1.3],[-7.2,1.1],[-6.4,2.7],[-5.5,2.8],[-5.4,1.9],[-4.9,3.1],[-3.2,3.2],[-3.3,-0.3],[-3.1,-0.1],[-2.9,0.1],[-3.5,-0.15],[-0.3,-0.8],[0,-0.65],[0.25,-1],[0,-1.05],[-0.1,-0.8],[0.05,-1.2],[2.4,-6.9],[4.9,-5.5],[5.6,-5.4],[4.7,-5.2]];
const bGold = [[-4.5,1.6],[-4.4,1.4],[-3.7,1.9],[-3.1,2.55],[-1.95,-8.85],[-1.75,-8.9],[-1.6,-9.05],[-1.4,-9.1],[1.9,-8.6],[2.2,-7.9],[2.1,-7.7],[1.8,-8.9],[2,-9.05],[2.5,-7.55],[2.6,-6.8],[2.75,-6.7],[-3.9,1.6],[-2.8,-0.55]];
const bYellow = [[-4.4,3.4],[-3.1,2.8],[-4.55,1.2],[2.15,-8.2],[2.1,-8.5],[2.3,-7.95],[2,-7.1],[2.35,-7.4],[1.8,-8.7],[-1.3,-9.3],[0.35,-12.4]];
const bGreen = [[-7.95,1.6],[-7.85,1.4],[-2.8,2.55],[-2.6,2.5],[-3,1.95],[-4.7,0.7],[-4.3,0.5],[-2.6,-0.3],[-2.75,-0.4],[-2.1,-8.6],[1.85,-6.9],[2.15,-6.7],[2,-9.45],[0.45,-1.15],[5,-3.9],[5.1,-3.8],[3.2,-7.7],[3.3,-7.3]];
const bCyan = [[-2.55,2.7],[-2.4,2.6],[-2.5,2.3],[-2.35,2.1],[-2.4,1.9],[-2.3,2.25],[-1.95,0.7],[-2.1,0.4],[-1.85,0.55],[-1.9,0.85],[-2.05,0.65],[-2.15,0.3],[0.9,-10.6],[1.9,-9.95],[2,-9.9],[1.75,-9.85],[1.4,-9.4],[5,-3.5]];
const bBlue = [[-5.85,0.9],[-2.05,1.55],[-1.95,1.35],[-1.65,0.85],[-1.35,0.45],[-1.1,-0.6],[-1.05,-0.8],[-2.25,-0.7],[-1.7,-0.4],[3.25,-8.6],[3.4,-8.55],[3.5,-8.4],[3.35,-8.75],[3.45,-8.45],[2.05,-10.15],[4,-6.55],[4.2,-6.4],[0.8,-1.4],[-1.55,-0.7]];

/* =====================================
   PANEL D – UMAP (MALE)
===================================== */
const dXTicks = [-6, -4, -2, 0, 2];
const dYTicks = [0, -1, -2, -3, -4, -5, -6];
const dMsName = [[-5.51,-1.77,"MSm"]];
const dAdName = [[0.99,-3.2,"ADm"]];
const dDlbName = [[1.86,-3.82,"DLBm"]];
const dPdName = [[1.02,-3.92,"PDm"]];
const dPdmName = [[1.23,-4.17,"PDMm"]];
const dPddName = [[-1.2,-5.09,"PDDm"]];
const dHdName = [[-3.98,-5.81,"HDm"]];
const dAlsName = [[-2.27,-5.76,"ALSm"]];
const dCjdName = [[-1.23,-6.31,"CJDm"]];
const dMsRings = [
  [[-6.27,0.29],[-5.75,0.15],[-5.2,-0.25],[-4.85,-0.75],[-4.77,-1.05],[-4.85,-1.5],[-5.15,-1.85],[-5.5,-2.1],[-5.9,-2.18],[-6.4,-2],[-7,-1.75],[-7.45,-1.45],[-7.65,-1.1],[-7.45,-0.7],[-7.1,-0.3],[-6.75,0.1]],
  [[-6.27,0.15],[-5.78,0.03],[-5.3,-0.32],[-4.98,-0.8],[-4.92,-1.05],[-5,-1.45],[-5.27,-1.75],[-5.6,-1.95],[-5.95,-2],[-6.4,-1.85],[-6.95,-1.6],[-7.35,-1.35],[-7.5,-1.1],[-7.32,-0.7],[-7,-0.3],[-6.7,0]],
  [[-6.27,0.02],[-5.82,-0.1],[-5.4,-0.4],[-5.1,-0.85],[-5.05,-1.05],[-5.13,-1.4],[-5.4,-1.65],[-5.7,-1.8],[-6,-1.83],[-6.4,-1.72],[-6.9,-1.5],[-7.22,-1.28],[-7.35,-1.08],[-7.2,-0.72],[-6.9,-0.33],[-6.62,-0.08]],
  [[-6.25,-0.1],[-5.85,-0.2],[-5.48,-0.5],[-5.22,-0.88],[-5.18,-1.05],[-5.25,-1.35],[-5.5,-1.55],[-5.78,-1.67],[-6.05,-1.68],[-6.42,-1.6],[-6.85,-1.4],[-7.1,-1.22],[-7.2,-1.05],[-7.07,-0.75],[-6.8,-0.4],[-6.55,-0.18]],
  [[-6.22,-0.22],[-5.87,-0.3],[-5.55,-0.58],[-5.35,-0.9],[-5.3,-1.05],[-5.37,-1.3],[-5.6,-1.45],[-5.85,-1.54],[-6.1,-1.55],[-6.42,-1.48],[-6.8,-1.3],[-7,-1.15],[-7.07,-1.02],[-6.95,-0.78],[-6.7,-0.47],[-6.5,-0.3]],
  [[-6.2,-0.32],[-5.9,-0.4],[-5.62,-0.65],[-5.47,-0.93],[-5.44,-1.05],[-5.5,-1.25],[-5.7,-1.36],[-5.93,-1.43],[-6.15,-1.43],[-6.42,-1.38],[-6.72,-1.22],[-6.88,-1.08],[-6.93,-0.98],[-6.83,-0.8],[-6.63,-0.55],[-6.45,-0.4]],
  [[-6.1,-0.42],[-5.85,-0.52],[-5.7,-0.78],[-5.62,-1.03],[-5.75,-1.18],[-6,-1.28],[-6.3,-1.3],[-6.6,-1.18],[-6.75,-1.02],[-6.72,-0.88],[-6.5,-0.58],[-6.3,-0.46]]];
const dMainRings = [
  [[0.34,-1.4],[0.85,-1.51],[1.27,-1.85],[1.44,-2.43],[1.95,-2.85],[2.63,-3.48],[2.88,-4.1],[2.63,-4.73],[1.95,-5.15],[1.02,-5.31],[0.68,-5.63],[0.25,-6.31],[-0.08,-6.73],[-0.68,-6.86],[-1.7,-6.81],[-2.46,-6.62],[-3.3,-6.83],[-4.07,-6.81],[-4.66,-6.47],[-4.83,-5.99],[-4.66,-5.36],[-4.32,-5],[-3.56,-4.95],[-2.88,-4.68],[-2.29,-4.34],[-1.7,-4.21],[-0.93,-4.34],[-0.25,-4.52],[0.34,-4.55],[0.59,-4.32],[0.51,-4],[0,-3.69],[-0.42,-3.27],[-0.59,-2.69],[-0.66,-2.11],[-0.34,-1.64]],
  [[-1.7,-4.34],[-0.93,-4.47],[-0.25,-4.68],[0.34,-4.95],[0.49,-5.15],[0.34,-5.68],[0.04,-6.26],[-0.25,-6.57],[-0.76,-6.75],[-1.7,-6.68],[-2.46,-6.49],[-3.3,-6.7],[-3.98,-6.68],[-4.49,-6.39],[-4.66,-5.99],[-4.49,-5.47],[-4.15,-5.13],[-3.47,-5.08],[-2.8,-4.81],[-2.25,-4.47]],
  [[-1.7,-4.47],[-1,-4.6],[-0.35,-4.8],[0.15,-5.05],[0.3,-5.2],[0.15,-5.7],[-0.1,-6.2],[-0.4,-6.47],[-0.8,-6.6],[-1.7,-6.53],[-2.46,-6.35],[-3.3,-6.56],[-3.9,-6.55],[-4.32,-6.3],[-4.5,-5.98],[-4.33,-5.55],[-4,-5.25],[-3.4,-5.2],[-2.72,-4.92],[-2.2,-4.6]],
  [[-1.7,-4.58],[-1.05,-4.72],[-0.45,-4.92],[0,-5.15],[0.12,-5.25],[0,-5.7],[-0.2,-6.12],[-0.5,-6.37],[-0.85,-6.47],[-1.7,-6.4],[-2.46,-6.22],[-3.3,-6.44],[-3.85,-6.42],[-4.18,-6.2],[-4.33,-5.95],[-4.18,-5.6],[-3.85,-5.35],[-3.33,-5.3],[-2.65,-5.03],[-2.15,-4.72]],
  [[-1.7,-4.7],[-1.1,-4.83],[-0.55,-5.05],[-0.12,-5.25],[-0.05,-5.35],[-0.15,-5.75],[-0.3,-6.05],[-0.55,-6.27],[-0.9,-6.35],[-1.7,-6.28],[-2.46,-6.1],[-3.3,-6.32],[-3.8,-6.3],[-4.05,-6.12],[-4.17,-5.92],[-4.05,-5.68],[-3.75,-5.45],[-3.25,-5.4],[-2.6,-5.13],[-2.1,-4.82]],
  [[-1.65,-4.8],[-1.15,-4.93],[-0.65,-5.17],[-0.27,-5.4],[-0.22,-5.5],[-0.3,-5.8],[-0.45,-6],[-0.65,-6.15],[-0.95,-6.22],[-1.7,-6.15],[-2.46,-5.97],[-3.3,-6.2],[-3.75,-6.18],[-3.93,-6.02],[-4.02,-5.9],[-3.9,-5.72],[-3.65,-5.55],[-3.15,-5.5],[-2.5,-5.2],[-2.05,-4.92]],
  [[-2.16,-5.21],[-2.2,-5.44],[-2.54,-5.63],[-2.88,-5.89],[-3.3,-6.1],[-3.73,-6.1],[-3.85,-5.94],[-3.64,-5.73],[-3.05,-5.6],[-2.54,-5.3]],
  [[-2,-5.6],[-1.9,-5.2],[-1.6,-4.95],[-1.2,-5.1],[-0.7,-5.35],[-0.45,-5.6],[-0.5,-5.95],[-0.8,-6.08],[-1.6,-6.02],[-1.95,-5.9]],
  [[-1.35,-5.6],[-1,-5.35],[-0.85,-5.5],[-0.9,-5.72],[-0.6,-5.85],[-0.75,-5.98],[-1.2,-5.85]],
  [[-1.95,-5.98],[-1.7,-5.75],[-1.35,-5.75],[-1.1,-5.95],[-1.5,-6.12]],
  [[-1.7,-6.05],[-1.5,-5.95],[-1.35,-6.02],[-1.5,-6.1]]];
const dAdRings = [
  [[0.34,-1.51],[0.76,-1.59],[1.1,-1.9],[1.23,-2.48],[1.78,-2.9],[2.37,-3.42],[2.71,-4.05],[2.46,-4.68],[1.78,-5.05],[1.02,-5.13],[0.85,-4.79],[0.83,-4.1],[0.81,-3.58],[0.55,-3.32],[-0.08,-3.11],[-0.34,-2.9],[-0.51,-2.22],[-0.25,-1.69]],
  [[0.34,-1.62],[0.68,-1.72],[0.95,-2],[1.05,-2.42],[0.95,-2.72],[0.7,-2.9],[0.35,-2.98],[-0.05,-2.85],[-0.33,-2.5],[-0.4,-2.15],[-0.2,-1.8]],
  [[0.34,-1.72],[0.62,-1.82],[0.85,-2.05],[0.93,-2.4],[0.84,-2.65],[0.62,-2.82],[0.33,-2.88],[-0.02,-2.75],[-0.25,-2.45],[-0.3,-2.15],[-0.12,-1.87]],
  [[0.34,-1.81],[0.57,-1.9],[0.75,-2.1],[0.82,-2.38],[0.75,-2.6],[0.57,-2.73],[0.33,-2.78],[0.05,-2.66],[-0.15,-2.42],[-0.2,-2.15],[-0.05,-1.93]],
  [[0.34,-1.89],[0.52,-1.97],[0.66,-2.15],[0.72,-2.36],[0.66,-2.53],[0.52,-2.63],[0.33,-2.67],[0.1,-2.57],[-0.07,-2.38],[-0.1,-2.17],[0.02,-2]],
  [[0.34,-1.97],[0.48,-2.03],[0.58,-2.18],[0.62,-2.33],[0.58,-2.46],[0.47,-2.54],[0.33,-2.57],[0.16,-2.5],[0.03,-2.35],[0,-2.19],[0.09,-2.05]]];
const dDlbRings = [
  [[1.65,-3.06],[2.1,-3.3],[2.45,-3.75],[2.5,-4.2],[2.3,-4.65],[1.85,-4.95],[1.3,-5],[1,-4.75],[1,-4.2],[1,-3.7],[1.2,-3.3]],
  [[1.65,-3.17],[2.02,-3.4],[2.32,-3.8],[2.35,-4.2],[2.17,-4.6],[1.8,-4.85],[1.35,-4.88],[1.12,-4.65],[1.12,-4.2],[1.12,-3.75],[1.3,-3.38]],
  [[1.65,-3.28],[1.95,-3.48],[2.2,-3.85],[2.22,-4.2],[2.07,-4.55],[1.78,-4.75],[1.42,-4.77],[1.23,-4.55],[1.23,-4.2],[1.23,-3.8],[1.38,-3.45]],
  [[1.65,-3.38],[1.9,-3.55],[2.1,-3.88],[2.1,-4.2],[1.98,-4.48],[1.75,-4.62],[1.5,-4.65],[1.35,-4.45],[1.33,-4.15],[1.33,-3.85],[1.45,-3.55]],
  [[1.68,-3.48],[1.85,-3.62],[2,-3.92],[1.98,-4.2],[1.88,-4.42],[1.72,-4.52],[1.55,-4.5],[1.45,-4.3],[1.42,-4.05],[1.42,-3.85],[1.52,-3.62]],
  [[1.7,-3.58],[1.83,-3.7],[1.9,-3.95],[1.85,-4.2],[1.75,-4.35],[1.62,-4.3],[1.55,-4.1],[1.52,-3.85],[1.58,-3.68]]];
const dDarkRed = [[-6.33,-0.84],[-6.55,-0.99],[-5.89,-0.61],[-5.99,-0.41],[-5.87,-1.06],[-6.12,-1.21],[-6.33,-1.38],[0.13,-2.17],[0.44,-2.14],[-3.31,-5.93],[-3.84,-5.93],[-1.5,-6.05]];
const dRed = [[-6.4,-0.54],[-6.46,-1.45],[0.32,-2.57],[0.59,-2.5],[-2.6,-5.39],[-3.01,-5.63],[-3.35,-5.66],[-3.6,-6.15],[-2.44,-5.56],[1.75,-3.69],[1.72,-4],[1.78,-4.51],[-1.82,-4.89],[-6.64,-0.79]];
const dOrange = [[-5.59,-0.73],[-2.2,-5.26],[-1.65,-4.81],[-2.42,-5.7],[-1.25,-5.93],[-1.1,-6.02],[-2.8,-5.98],[2.06,-4.34],[0.81,-2.34],[-5.63,-0.38],[-6.92,-1.27],[-6.95,-1.09],[-1.74,-4.78]];
const dGold = [[-5.73,-1.38],[-6.32,-1.58],[0.04,-1.96],[-0.08,-2.32],[0.04,-2.53],[-3.56,-5.51],[-3.01,-5.36],[-2.36,-5.04],[-1.82,-5.73],[-1.93,-6.02],[0.68,-1.96],[1.99,-4.7],[0.17,-1.82]];
const dYellow = [[-6.21,-0.17],[-5.33,-1.11],[-1.31,-5.33],[-0.55,-6.07],[-0.62,-6.19],[-3.03,-6.27],[-0.92,-4.95]];
const dGreen = [[-6.6,-0.28],[-5.31,-0.84],[-7.2,-1.09],[0.34,-1.74],[0.95,-2.05],[0.07,-2.9],[-1.14,-5.42],[-0.17,-5.88],[-2.75,-5.08],[1.91,-3.24],[2.42,-4.1],[2.29,-4.63],[1.23,-4.85],[1.69,-4.89],[1.57,-4.92],[-4.08,-6.32]];
const dCyan = [[-6.14,0.08],[0.06,-3.1],[1.12,-2.8],[0.98,-3.48],[-0.61,-4.7],[-0.23,-4.89],[0.08,-5.39],[-0.28,-5.57],[-2.12,-6.38],[-3.9,-6.53],[-0.17,-6.4],[0.93,-5.04],[-0.4,-6.54],[-5.36,-0.3],[-7.08,-1.55],[-4.24,-5.49],[-1.63,-4.5],[-3.35,-6.53],[-4.34,-6.07],[-1.06,-4.63],[1.03,-2.74],[1.06,-3.9]];
const dBlue = [[-6.08,-1.94],[-5.14,-1.42],[0.08,-3.23],[-2.42,-4.63],[0.4,-4.88],[0.59,-5.42],[0.28,-5.87],[-0.85,-6.59],[-5.57,-1.97],[-0.03,-3.84],[-4.18,-5.08]];

/* =====================================
   PANEL F – UMAP (FEMALE)
===================================== */
const fXTicks = [0, 5, 10, 15, 20];
const fYTicks = [2, 0, -2, -4, -6, -8, -10, -12];
const fMsName = [[18.1,-1.65,"MSf"]];
const fAdName = [[9.33,-10.5,"ADf"]];
const fDlbName = [[8.8,-9.35,"DLBf"]];
const fPdName = [[9.2,-8.46,"PDf"]];
const fPdmName = [[9.3,-9.98,"PDMf"]];
const fPddName = [[2.1,0.18,"PDDf"]];
const fHdName = [[-0.85,1.7,"HDf"]];
const fAlsName = [[-0.05,0.32,"ALSf"]];
const fCjdName = [[-0.15,0.5,"CJDf"]];
const fTopRings = [
  [[-3.2,1.5],[-2.4,2.7],[-1,3.2],[0.6,3],[2,2.2],[3,1],[3.2,0.2],[2.9,-0.6],[2,-1.25],[0.9,-1.45],[-0.2,-1.1],[-1.4,-0.3],[-2.7,0.6]],
  [[-2.85,1.5],[-2.1,2.5],[-0.9,2.97],[0.5,2.8],[1.8,2],[2.65,0.9],[2.85,0.2],[2.55,-0.5],[1.75,-1.05],[0.85,-1.25],[-0.1,-0.9],[-1.2,-0.15],[-2.4,0.7]],
  [[-2.55,1.5],[-1.9,2.35],[-0.8,2.75],[0.4,2.6],[1.6,1.85],[2.4,0.85],[2.55,0.2],[2.3,-0.4],[1.6,-0.85],[0.85,-1.05],[0,-0.75],[-1.05,-0.05],[-2.15,0.8]],
  [[-2.3,1.5],[-1.7,2.2],[-0.7,2.55],[0.35,2.4],[1.4,1.7],[2.15,0.8],[2.3,0.2],[2.1,-0.3],[1.5,-0.7],[0.85,-0.85],[0.1,-0.6],[-0.9,0.05],[-1.9,0.9]],
  [[-2.05,1.5],[-1.5,2.05],[-0.6,2.35],[0.3,2.2],[1.25,1.55],[1.95,0.75],[2.05,0.2],[1.85,-0.2],[1.4,-0.5],[0.85,-0.65],[0.2,-0.45],[-0.75,0.15],[-1.7,1]],
  [[-1.8,1.5],[-1.3,1.9],[-0.5,2.15],[0.25,2],[1.1,1.4],[1.75,0.7],[1.85,0.2],[1.65,-0.1],[1.3,-0.35],[0.85,-0.45],[0.3,-0.3],[-0.6,0.3],[-1.45,1.05]],
  [[-1.5,1.5],[-1.1,1.8],[-0.45,1.95],[0.2,1.8],[1,1.25],[1.55,0.65],[1.6,0.2],[1.45,-0.02],[1.15,-0.2],[0.85,-0.28],[0.35,-0.15],[-0.5,0.4],[-1.2,1.1]],
  [[-1.2,1.4],[-0.8,1.68],[-0.3,1.72],[0.3,1.55],[0.95,1.1],[1.4,0.55],[1.45,0.2],[1.2,0.05],[0.85,-0.02],[0.4,0.05],[-0.3,0.55],[-0.9,1.1]]];
const fMsRings = [
  [[19.2,1.13],[20.2,0.85],[20.9,0],[21.05,-0.5],[21.4,-1.1],[22.1,-2],[22.1,-2.8],[21.3,-3.6],[20.3,-3.85],[19,-3.5],[17.9,-2.8],[17.4,-1.8],[17.2,-0.4],[17.6,0.5],[18.3,1]],
  [[19.2,0.9],[20,0.65],[20.6,-0.05],[20.75,-0.55],[21.1,-1.2],[21.75,-2.1],[21.75,-2.75],[21.05,-3.35],[20.25,-3.58],[19.15,-3.25],[18.2,-2.65],[17.75,-1.75],[17.55,-0.4],[17.9,0.4],[18.5,0.8]],
  [[19.2,0.7],[19.9,0.45],[20.35,-0.1],[20.5,-0.6],[20.85,-1.3],[21.45,-2.15],[21.4,-2.75],[20.85,-3.15],[20.2,-3.3],[19.3,-3],[18.5,-2.45],[18.05,-1.7],[17.85,-0.4],[18.15,0.3],[18.65,0.6]],
  [[19.2,0.5],[19.75,0.3],[20.1,-0.15],[20.25,-0.65],[20.6,-1.4],[21.15,-2.2],[21.1,-2.7],[20.7,-2.95],[20.15,-3.05],[19.45,-2.8],[18.75,-2.25],[18.3,-1.65],[18.15,-0.4],[18.4,0.2],[18.8,0.42]],
  [[19.2,0.3],[19.6,0.12],[19.9,-0.2],[20,-0.7],[20.35,-1.5],[20.85,-2.2],[20.8,-2.6],[20.45,-2.75],[20.05,-2.8],[19.55,-2.6],[19,-2.1],[18.6,-1.6],[18.4,-0.5],[18.6,0.05],[18.95,0.25]],
  [[19.25,0.05],[19.55,-0.1],[19.7,-0.45],[19.75,-0.85],[20.1,-1.6],[20.55,-2.2],[20.5,-2.45],[20.2,-2.55],[19.85,-2.5],[19.4,-2.25],[19,-1.85],[18.75,-1.4],[18.7,-0.5],[18.85,-0.1]],
  [[19.25,-0.25],[19.45,-0.35],[19.5,-0.8],[19.7,-1.3],[20.1,-1.9],[20.2,-2.2],[19.9,-2.3],[19.5,-2.1],[19.1,-1.6],[19,-1.1],[19.05,-0.5]],
  [[19.2,-0.3],[19.38,-0.45],[19.38,-0.85],[19.15,-0.85],[19.05,-0.55]],
  [[19.6,-1.7],[19.85,-1.9],[19.75,-2.2],[19.5,-2.15],[19.35,-1.9]]];
const fLowRings = [
  [[9.1,-7.55],[10.1,-7.85],[10.9,-8.6],[11.2,-9.3],[11.05,-10.3],[11.3,-11.5],[10.9,-12.6],[10,-13.3],[8.9,-13.4],[7.9,-13],[7.1,-12.2],[6.9,-11.3],[7.15,-10.2],[7.25,-9.2],[7.6,-8.4],[8.2,-7.8]],
  [[9.1,-7.9],[9.9,-8.1],[10.55,-8.75],[10.85,-9.4],[10.7,-10.3],[10.95,-11.4],[10.6,-12.3],[9.9,-12.95],[9,-13.1],[8.1,-12.75],[7.5,-12.05],[7.25,-11.3],[7.5,-10.3],[7.6,-9.3],[7.9,-8.6],[8.4,-8.1]],
  [[9.1,-8.25],[9.7,-8.4],[10.25,-8.95],[10.5,-9.5],[10.4,-10.4],[10.65,-11.4],[10.35,-12.1],[9.8,-12.65],[9,-12.8],[8.3,-12.5],[7.8,-11.9],[7.6,-11.3],[7.85,-10.4],[7.95,-9.4],[8.2,-8.8],[8.6,-8.4]],
  [[9.1,-8.55],[9.6,-8.7],[9.95,-9.1],[10.2,-9.6],[10.1,-10.5],[10.35,-11.4],[10.1,-12],[9.65,-12.4],[9,-12.5],[8.45,-12.3],[8.05,-11.8],[7.9,-11.3],[8.15,-10.5],[8.3,-9.5],[8.5,-9],[8.75,-8.7]],
  [[9.1,-8.85],[9.5,-9],[9.75,-9.4],[9.8,-9.95],[9.8,-10.6],[10.05,-11.3],[9.9,-11.8],[9.5,-12.15],[9,-12.2],[8.6,-12.05],[8.3,-11.6],[8.25,-11.2],[8.45,-10.6],[8.6,-9.8],[8.7,-9.3],[8.85,-9]],
  [[9.2,-9.2],[9.5,-9.4],[9.5,-9.9],[9.35,-10.3],[9.6,-10.9],[9.75,-11.4],[9.6,-11.75],[9.2,-11.95],[8.8,-11.85],[8.55,-11.4],[8.7,-10.8],[8.9,-10.2],[8.9,-9.6]],
  [[9.15,-11],[9.5,-11.2],[9.55,-11.6],[9.2,-11.8],[8.85,-11.65],[8.8,-11.3]],
  [[9.1,-9.05],[9.3,-9.15],[9.3,-9.4],[9.1,-9.45],[8.95,-9.25]]];
const fDarkRed = [[-0.1,1.45],[0,1.35],[-0.25,0.95],[0.3,1.05],[0.6,1.3],[0.25,1.65],[0.55,1.85],[-1.05,1.5],[-1.1,1.25],[-0.6,1.8],[0.85,1.6],[9,-11.75]];
const fRed = [[-0.75,2.1],[-0.2,2],[0.45,1.95],[0.75,1.85],[1.1,1.75],[0.1,0.12],[0.45,0],[-0.25,0.1],[0.9,0.35],[-0.9,1.35],[9.1,-11.5],[9,-11.35],[8.6,-11.4],[8.6,-11.65]];
const fOrange = [[-1.6,1.3],[-1.5,1.85],[1.2,0.95],[1.65,0.75],[1.6,0.5],[1.15,0.15],[0.65,-0.27],[0.9,-0.05],[-1,0.85],[0.9,2],[19.45,-1.75],[19.2,-1.8],[19.6,-1.6],[19.75,-1.55],[19.55,-2.25],[20,-2.4],[20.4,-2.2],[19.2,-1.3],[18.95,-0.45],[19.05,-0.7],[19.55,-0.55],[9.5,-11.05],[9.35,-11.3],[9.65,-11.6],[8.45,-11.1],[8.85,-12.25],[9.2,-12.05],[8.6,-11.85]];
const fGold = [[-0.3,2.3],[19,-0.2],[19.25,-0.15],[19.55,-0.15],[20.25,-2.7],[8.9,-9.4],[9,-9.7],[9.2,-10.45],[9.35,-9.35],[8.7,-12.1],[9.6,-12.2]];
const fYellow = [[0.7,-0.5],[1,-0.55],[19.2,0.1],[19.4,-0.1],[9.1,-9.1],[9.5,-8.9],[9.6,-12.05]];
const fGreen = [[19,0],[18.9,-0.05],[19.75,0.1],[19.35,0.3],[20.45,-3],[20.7,-2.45],[9.05,-8.6],[1.75,0],[18.75,-2.2],[20.5,-3],[20.2,-3.05],[1.9,2.3]];
const fCyan = [[1.25,-0.8],[9.2,-9.35]];
const fBlue = [[9.05,-8.1],[9.3,-9.45]];

/* =====================================
   COLOURS
===================================== */
const textColors = { ms: "#8ccb4e", ad: "#4a3fdc", pd: "#e0b72a", pdm: "#f5ea14", als: "#4a72f0", hd: "#35c48f", dlb: "#1fb0d8", cjd: "#3b8df0", pddUmap: "#d3bd2d", pdmUmap: "#f2c72f", msUmap: "#74cf6a", hdUmap: "#32c29a" };
const jet = { darkRed: "#a61616", red: "#e8271e", orange: "#f58a25", gold: "#f6c21a", yellow: "#eee81c", green: "#85d86a", cyan: "#30d6ee", blue: "#2f7ff0" };
const contourColor = "#757890";

/* =====================================
   SHARED HELPERS
===================================== */
const pts = list => list.map(p => ({ x: p[0], y: p[1] }));

function ringDataset(ring) {
  // repeat neighbours at the seam so the smoothing stays round where the ring closes
  const closed = [ring[ring.length - 1], ...ring, ring[0], ring[1]];
  return { data: pts(closed), showLine: true, pointRadius: 0, borderColor: contourColor, borderWidth: 1.8, tension: 0.4, fill: false };
}

function dotDataset(list, color, style, radius, border) {
  return { data: pts(list), pointStyle: style, pointRadius: radius, pointBackgroundColor: color, pointBorderColor: border, pointBorderWidth: 1.6, showLine: false, clip: false };
}

function jetDataset(list, color) {
  return { data: pts(list), pointStyle: "rectRot", pointRadius: 3.2, pointBackgroundColor: "rgba(255,255,255,0.35)", pointBorderColor: color, pointBorderWidth: 1.7, showLine: false };
}

function axis(range, ticks, fontCfg, padding, size, extra) {
  return Object.assign({
    type: "linear",
    min: range[0],
    max: range[1],
    border: { display: false },
    afterBuildTicks(scale) { scale.ticks = ticks.map(v => ({ value: v })); },
    afterFit(scale) {
      if (scale.isHorizontal()) scale.height = size; else scale.width = size;
      scale.paddingLeft = scale.paddingRight = scale.paddingTop = scale.paddingBottom = 0;
    },
    ticks: { font: fontCfg, color: fontCfg.color, padding, maxRotation: 0, autoSkip: false, callback: v => String(v) }
  }, extra);
}

function textPlugin(hook, groups, font, dy) {
  return {
    id: "pointText",
    [hook](chart) {
      const { ctx, scales: { x, y } } = chart;
      ctx.save();
      ctx.font = font;
      ctx.textAlign = "center";
      ctx.textBaseline = "middle";
      groups.forEach(g => {
        ctx.fillStyle = g.color;
        g.list.forEach(p => ctx.fillText(p[2], x.getPixelForValue(p[0]), y.getPixelForValue(p[1]) + dy));
      });
      ctx.restore();
    }
  };
}

function letterPlugin(letter, lx, ly) {
  return {
    id: "panelLetter",
    afterDraw(chart) {
      const { ctx } = chart;
      ctx.save();
      ctx.font = "700 45px 'Liberation Serif'";
      ctx.fillStyle = "#000";
      ctx.textAlign = "left";
      ctx.textBaseline = "alphabetic";
      ctx.fillText(letter, lx, ly);
      ctx.restore();
    }
  };
}

function superTitle(ctx, ord, sup, rest, cx, cy, rotate) {
  ctx.save();
  ctx.translate(cx, cy);
  if (rotate) ctx.rotate(-Math.PI / 2);
  ctx.fillStyle = "#2e2e2e";
  ctx.textBaseline = "alphabetic";
  ctx.textAlign = "left";
  const big = "27px 'DejaVu Sans'";
  const small = "18px 'DejaVu Sans'";
  ctx.font = big;
  const w1 = ctx.measureText(ord).width;
  const w3 = ctx.measureText(rest).width;
  ctx.font = small;
  const w2 = ctx.measureText(sup).width;
  let px = -(w1 + w2 + w3) / 2;
  ctx.font = big;
  ctx.fillText(ord, px, 9);
  px += w1;
  ctx.font = small;
  ctx.fillText(sup, px, -2);
  px += w2;
  ctx.font = big;
  ctx.fillText(rest, px, 9);
  ctx.restore();
}

function pcaFrame(xt, yt) {
  return {
    id: "pcaFrame",
    afterDraw(chart) {
      const { ctx, chartArea: a, scales: { x, y } } = chart;
      ctx.save();
      ctx.strokeStyle = "#3c3c3c";
      ctx.lineWidth = 1.6;
      ctx.strokeRect(a.left, a.top, a.right - a.left, a.bottom - a.top);
      ctx.strokeStyle = "#b5b5b5";
      ctx.lineWidth = 1.5;
      ctx.strokeRect(a.left + 1.6, a.top + 1.6, a.right - a.left - 3.2, a.bottom - a.top - 3.2);
      ctx.strokeStyle = "#3c3c3c";
      ctx.lineWidth = 1.6;
      ctx.beginPath();
      ctx.moveTo(a.left, a.bottom - 3);
      ctx.lineTo(a.right, a.bottom - 3);
      ctx.moveTo(a.left + 3, a.top);
      ctx.lineTo(a.left + 3, a.bottom);
      ctx.stroke();
      ctx.fillStyle = "#222";
      xt.forEach(v => {
        const px = x.getPixelForValue(v);
        ctx.fillRect(px - 2, a.top + 2, 4, 6);
        ctx.fillRect(px - 2, a.bottom - 8, 4, 6);
      });
      yt.forEach(v => {
        const py = y.getPixelForValue(v);
        ctx.fillRect(a.left + 2, py - 2, 6, 4);
        ctx.fillRect(a.right - 8, py - 2, 6, 4);
      });
      ctx.restore();
    }
  };
}

function umapFrame(xt, yt) {
  return {
    id: "umapFrame",
    beforeDatasetsDraw(chart) {
      const { ctx, chartArea: a, scales: { x, y } } = chart;
      ctx.save();
      ctx.strokeStyle = "#5a5a5a";
      ctx.lineWidth = 1.6;
      ctx.strokeRect(a.left, a.top, a.right - a.left, a.bottom - a.top);
      ctx.lineWidth = 1.2;
      ctx.beginPath();
      xt.forEach(v => {
        const px = x.getPixelForValue(v);
        ctx.moveTo(px, a.top); ctx.lineTo(px, a.top + 5);
        ctx.moveTo(px, a.bottom); ctx.lineTo(px, a.bottom - 5);
      });
      yt.forEach(v => {
        const py = y.getPixelForValue(v);
        ctx.moveTo(a.left, py); ctx.lineTo(a.left + 5, py);
        ctx.moveTo(a.right, py); ctx.lineTo(a.right - 5, py);
      });
      ctx.stroke();
      ctx.restore();
    }
  };
}

function place(id, box) {
  const canvas = document.getElementById(id);
  canvas.width = box.w;
  canvas.height = box.h;
  canvas.style.left = box.x + "px";
  canvas.style.top = box.y + "px";
  canvas.style.width = box.w + "px";
  canvas.style.height = box.h + "px";
  return canvas;
}

function layoutFor(box, plot) {
  return { padding: { left: 0, bottom: 0, top: plot.top - box.y, right: box.x + box.w - plot.right } };
}

/* =====================================
   PCA – LABELLED SCATTER
===================================== */
function renderPca(id, c) {
  const canvas = place(id, c.box);
  const font = { family: "'DejaVu Sans'", size: 21, color: "#303030" };
  const zeroGrid = {
    grid: {
      drawTicks: false,
      lineWidth: 2,
      color: ctx => (ctx.tick && ctx.tick.value === 0 ? "#c9c9c9" : "rgba(0,0,0,0)")
    }
  };
  new Chart(canvas, {
    type: "scatter",
    data: {
      datasets: [
        { data: pts(c.dots), pointStyle: "crossRot", pointRadius: 4, pointBorderColor: "#000", pointBorderWidth: 1.2, showLine: false, clip: false },
        dotDataset(c.bright, "#12b312", "circle", 6.5, "#0d8f0d"),
        Object.assign(dotDataset(c.triangles, "#0f9a14", "triangle", 5, "#111"), { pointRotation: 90 }),
        dotDataset(c.diamonds, "#0b8a12", "rectRot", 6, "#111"),
        dotDataset(c.dots, "#0b8f14", "circle", 6, "#111")
      ]
    },
    options: {
      responsive: false,
      animation: false,
      events: [],
      layout: layoutFor(c.box, c.plot),
      plugins: { legend: { display: false }, tooltip: { enabled: false } },
      scales: {
        x: axis(c.xRange, c.xTicks, font, 14, c.box.y + c.box.h - c.plot.bottom, zeroGrid),
        y: axis(c.yRange, c.yTicks, font, 8, c.plot.left - c.box.x, zeroGrid)
      }
    },
    plugins: [
      textPlugin("beforeDatasetsDraw", c.labels, "28px 'DejaVu Sans'", 10.5),
      pcaFrame(c.xTicks, c.yTicks),
      letterPlugin(c.letter, c.letterX, c.letterY),
      {
        id: "pcaTitles",
        afterDraw(chart) {
          const { ctx } = chart;
          superTitle(ctx, "1", "st", " Principal Component (" + c.xShare + ")", c.xTitle[0], c.xTitle[1], false);
          superTitle(ctx, "2", "nd", " Principal Component (" + c.yShare + ")", c.yTitle[0], c.yTitle[1], true);
        }
      }
    ]
  });
}

/* =====================================
   UMAP – DENSITY CONTOURS
===================================== */
function renderUmap(id, c) {
  const canvas = place(id, c.box);
  const font = { family: "'Liberation Sans'", size: 20, color: "#555" };
  const grid = { color: "#e8e8e8", lineWidth: 2, drawTicks: false };
  const title = (text, pad) => ({ display: true, text, color: "#333", font: { family: "'Liberation Sans'", size: 22 }, padding: pad });
  const boxBottom = c.box.y + c.box.h;
  new Chart(canvas, {
    type: "scatter",
    data: {
      datasets: [
        { data: pts(c.corners), pointStyle: "circle", pointRadius: 3, pointBackgroundColor: "#1c22b8", pointBorderColor: "#1c22b8", showLine: false, clip: false },
        ...c.jetGroups.map(g => jetDataset(g[0], g[1])),
        ...c.rings.map(ringDataset)
      ]
    },
    options: {
      responsive: false,
      animation: false,
      events: [],
      layout: layoutFor(c.box, c.plot),
      plugins: { legend: { display: false }, tooltip: { enabled: false } },
      scales: {
        x: axis(c.xRange, c.xTicks, font, 13, boxBottom - c.plot.bottom, { grid, title: title("UMAP-X", { top: 0, bottom: boxBottom - c.xTitleY - 13 }) }),
        y: axis(c.yRange, c.yTicks, font, 14, c.plot.left - c.box.x, { grid, title: title("UMAP-Y", { top: c.yTitleX - c.box.x - 13, bottom: 0 }) })
      }
    },
    plugins: [
      umapFrame(c.xTicks, c.yTicks),
      textPlugin("afterDatasetsDraw", c.labels, "27px 'Liberation Sans'", 0),
      letterPlugin(c.letter, c.letterX, c.letterY)
    ]
  });
}

/* =====================================
   DRAW ALL SIX PANELS
===================================== */
renderPca("panelA", {
  box: { x: 0, y: 0, w: 860, h: 610 }, plot: { left: 95.5, right: 747.8, top: 10.7, bottom: 523.5 },
  xRange: [-6.57, 2.4], yRange: [-4.07, 2.96], xTicks: aXTicks, yTicks: aYTicks,
  labels: [
    { list: aAdLabels, color: textColors.ad }, { list: aDlbLabels, color: textColors.dlb }, { list: aAlsTopLabels, color: textColors.als },
    { list: aPdLabels, color: textColors.pd }, { list: aPdmLabels, color: textColors.pdm }, { list: aAlsLowLabels, color: textColors.als },
    { list: aHdLabels, color: textColors.hd }, { list: aMsLabels, color: textColors.ms }
  ],
  dots: aDots, bright: aBrightDots, diamonds: aDiamonds, triangles: aTriangles,
  xShare: "71%", yShare: "19%", xTitle: [420, 585], yTitle: [40, 266],
  letter: "A", letterX: 5, letterY: 43
});
renderPca("panelC", {
  box: { x: 0, y: 600, w: 860, h: 600 }, plot: { left: 99.5, right: 736, top: 611.5, bottom: 1112.8 },
  xRange: [-6.44, 2.45], yRange: [-4.21, 2.79], xTicks: cXTicks, yTicks: cYTicks,
  labels: [
    { list: cAdLabels, color: textColors.ad }, { list: cDlbLabels, color: textColors.dlb }, { list: cAlsBackLabels, color: textColors.als }, { list: cPdLabels, color: textColors.pd },
    { list: cPdmLabels, color: textColors.pdm }, { list: cAlsLabels, color: textColors.als }, { list: cHdLabels, color: textColors.hd }, { list: cMsLabels, color: textColors.ms }
  ],
  dots: cDots, bright: cBrightDots, diamonds: cDiamonds, triangles: cTriangles,
  xShare: "67%", yShare: "20%", xTitle: [417, 576], yTitle: [45, 267],
  letter: "C", letterX: 7, letterY: 42
});
renderPca("panelE", {
  box: { x: 0, y: 1200, w: 860, h: 619 }, plot: { left: 102, right: 761, top: 1216.6, bottom: 1736 },
  xRange: [-6.02, 2.85], yRange: [-3.97, 3.0], xTicks: eXTicks, yTicks: eYTicks,
  labels: [
    { list: eAdLabels, color: textColors.ad }, { list: eDlbLabels, color: textColors.dlb }, { list: ePdmLabels, color: textColors.pdm }, { list: eAlsBackLabels, color: textColors.als },
    { list: ePdLabels, color: textColors.pd }, { list: eAlsLabels, color: textColors.als }, { list: eHdLabels, color: textColors.hd }, { list: eMsLabels, color: textColors.ms }
  ],
  dots: eDots, bright: eBrightDots, diamonds: eDiamonds, triangles: eTriangles,
  xShare: "75%", yShare: "17%", xTitle: [430, 600], yTitle: [45, 276],
  letter: "E", letterX: 7, letterY: 43
});
renderUmap("panelB", {
  box: { x: 860, y: 0, w: 674, h: 620 }, plot: { left: 992, right: 1529.8, top: 6, bottom: 542.7 },
  xRange: [-8.83, 6.46], yRange: [-13.2, 4.33], xTicks: bXTicks, yTicks: bYTicks,
  corners: [[-8.83, -13.2], [6.46, 4.33]], xTitleY: 593, yTitleX: 929,
  rings: [...bUpperRings, ...bLobeRings, ...bFtdRings, bLowerOuter, ...bMsRings, ...bAdRings, ...bPdmRings],
  jetGroups: [[bDarkRed, jet.darkRed], [bRed, jet.red], [bOrange, jet.orange], [bGold, jet.gold], [bYellow, jet.yellow], [bGreen, jet.green], [bCyan, jet.cyan], [bBlue, jet.blue]],
  labels: [{ list: bNames, color: "#0a0a0a" }],
  letter: "B", letterX: 0, letterY: 44
});
renderUmap("panelD", {
  box: { x: 860, y: 600, w: 674, h: 620 }, plot: { left: 986, right: 1522, top: 606, bottom: 1142.7 },
  xRange: [-7.69, 2.88], yRange: [-6.93, 0.42], xTicks: dXTicks, yTicks: dYTicks,
  corners: [[-7.69, -6.93], [2.88, 0.42]], xTitleY: 1193, yTitleX: 935,
  rings: [...dMsRings, ...dMainRings, ...dAdRings, ...dDlbRings],
  jetGroups: [[dDarkRed, jet.darkRed], [dRed, jet.red], [dOrange, jet.orange], [dGold, jet.gold], [dYellow, jet.yellow], [dGreen, jet.green], [dCyan, jet.cyan], [dBlue, jet.blue]],
  labels: [
    { list: dMsName, color: textColors.msUmap }, { list: dAdName, color: textColors.ad }, { list: dDlbName, color: textColors.dlb }, { list: dPdName, color: textColors.pdm },
    { list: dPdmName, color: textColors.pdmUmap }, { list: dPddName, color: textColors.pddUmap }, { list: dHdName, color: textColors.hdUmap }, { list: dAlsName, color: textColors.als }, { list: dCjdName, color: textColors.cjd }
  ],
  letter: "D", letterX: 0, letterY: 52
});
renderUmap("panelF", {
  box: { x: 860, y: 1200, w: 674, h: 619 }, plot: { left: 992, right: 1529.8, top: 1206.3, bottom: 1743.2 },
  xRange: [-2.79, 22], yRange: [-13.12, 3.12], xTicks: fXTicks, yTicks: fYTicks,
  corners: [[-2.79, -13.12], [22, 3.12]], xTitleY: 1794, yTitleX: 929,
  rings: [...fTopRings, ...fMsRings, ...fLowRings],
  jetGroups: [[fDarkRed, jet.darkRed], [fRed, jet.red], [fOrange, jet.orange], [fGold, jet.gold], [fYellow, jet.yellow], [fGreen, jet.green], [fCyan, jet.cyan], [fBlue, jet.blue]],
  labels: [
    { list: fMsName, color: textColors.msUmap }, { list: fAdName, color: textColors.ad }, { list: fDlbName, color: textColors.dlb }, { list: fPdName, color: textColors.pdm },
    { list: fPdmName, color: textColors.pdmUmap }, { list: fPddName, color: textColors.pddUmap }, { list: fHdName, color: textColors.hdUmap }, { list: fAlsName, color: textColors.als }, { list: fCjdName, color: textColors.cjd }
  ],
  letter: "F", letterX: 0, letterY: 51
});
</script>
</body>
</html>
